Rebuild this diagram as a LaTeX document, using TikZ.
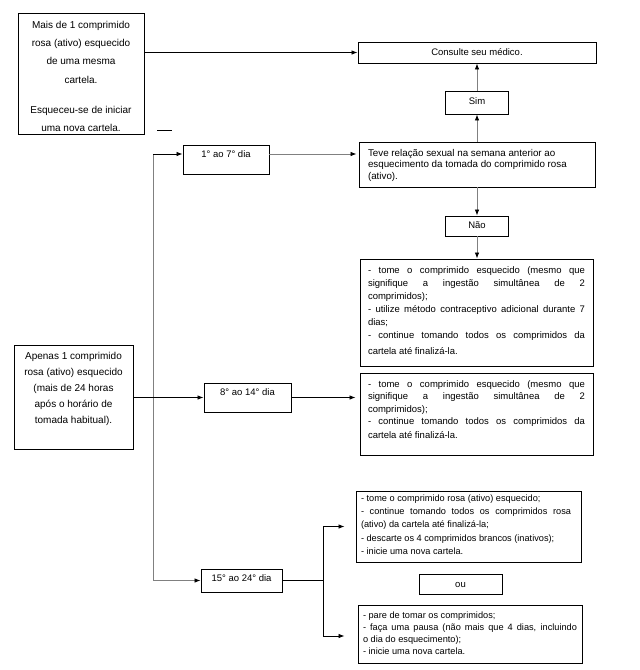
\documentclass[tikz,border=0pt]{standalone}
\usepackage{fontspec}
\setmainfont{Liberation Sans}
\usetikzlibrary{arrows.meta}
\newcommand\tbx[4]{\parbox[c][#2][t]{#1}{\vspace*{#3}#4}}
\newcommand\strt{\rule{0pt}{7pt}}
\newcommand\jl[1]{\makebox[\linewidth][s]{#1}}
\tikzset{
  box/.style={draw, line width=0.9pt, inner ysep=0pt, inner xsep=0pt, font=\fontsize{9.5}{13}\selectfont},
  ln/.style={line width=0.8pt},
  gln/.style={line width=0.8pt, draw=black!50},
  arr/.style={-{Latex[length=6pt,width=4.5pt,color=black]}},
}
\begin{document}
\begin{tikzpicture}[x=1pt,y=-1pt]
\useasboundingbox (0,0) rectangle (640,670);
% boxes
\node[box, font=\fontsize{10}{18.3}\selectfont] (A) at (81,73.5)
  {\tbx{126pt}{121pt}{8pt}{\centering\strt Mais de 1 comprimido\\ rosa (ativo) esquecido\\ de uma mesma\\ cartela.\\[11.7pt] Esqueceu-se de iniciar\\ uma nova cartela.}};
\node[box] (Consulte) at (477,52.5)
  {\tbx{238pt}{21pt}{6.5pt}{\centering\strt Consulte seu médico.}};
\node[box] (Sim) at (477,102.5)
  {\tbx{63pt}{23pt}{6pt}{\centering\strt Sim}};
\node[box, inner xsep=9pt, font=\fontsize{9.8}{11.3}\selectfont] (Teve) at (477,164.5)
  {\tbx{218pt}{45pt}{7.5pt}{\raggedright\strt Teve relação sexual na semana anterior ao\\ esquecimento da tomada do comprimido rosa\\ (ativo).}};
\node[box] (Nao) at (477,226)
  {\tbx{63pt}{20pt}{5.5pt}{\centering\strt Não}};
\node[box, inner xsep=8pt] (B) at (476.5,312.5)
  {\tbx{217pt}{107pt}{7pt}{\raggedright\strt\jl{- tome o comprimido esquecido (mesmo que}\\
   \jl{signifique a ingestão simultânea de 2}\\
   comprimidos);\\
   \jl{- utilize método contraceptivo adicional durante 7}\\
   dias;\\
   \jl{- continue tomando todos os comprimidos da}\\[3pt]
   cartela até finalizá-la.}};
\node[box, font=\fontsize{10}{16}\selectfont] (C) at (73.5,397)
  {\tbx{119pt}{104pt}{7pt}{\centering\strt Apenas 1 comprimido\\ rosa (ativo) esquecido\\ (mais de 24 horas\\ após o horário de\\ tomada habitual).}};
\node[box] (d1) at (226,159.5)
  {\tbx{86pt}{29pt}{5.5pt}{\centering\strt 1° ao 7° dia}};
\node[box] (d8) at (247.5,397.5)
  {\tbx{87pt}{29pt}{5pt}{\centering\strt 8° ao 14° dia}};
\node[box, inner xsep=8pt, font=\fontsize{9.5}{12.5}\selectfont] (D) at (476.5,414)
  {\tbx{217pt}{82pt}{7pt}{\raggedright\strt\jl{- tome o comprimido esquecido (mesmo que}\\
   \jl{signifique a ingestão simultânea de 2}\\
   comprimidos);\\
   \jl{- continue tomando todos os comprimidos da}\\[1pt]
   cartela até finalizá-la.}};
\node[box] (d15) at (241.5,580.5)
  {\tbx{81pt}{23pt}{5.5pt}{\centering\strt 15° ao 24° dia}};
\node[box, inner xsep=5pt, font=\fontsize{9.2}{13.2}\selectfont] (E) at (468.5,526.5)
  {\tbx{215pt}{71pt}{3.5pt}{\raggedright\strt - tome o comprimido rosa (ativo) esquecido;\\
   \makebox[210pt][s]{- continue tomando todos os comprimidos rosa}\\
   (ativo) da cartela até finalizá-la;\\
   - descarte os 4 comprimidos brancos (inativos);\\
   - inicie uma nova cartela.}};
\node[box] (ou) at (460.5,584)
  {\tbx{83pt}{20pt}{6.5pt}{\centering\strt ou}};
\node[box, inner xsep=5pt, font=\fontsize{9.2}{12.3}\selectfont] (F) at (470,634)
  {\tbx{214pt}{58pt}{6pt}{\raggedright\strt - pare de tomar os comprimidos;\\
   \jl{- faça uma pausa (não mais que 4 dias, incluindo}\\
   o dia do esquecimento);\\
   - inicie uma nova cartela.}};
% coordinates
\coordinate (s1) at (157,130);
\coordinate (s2) at (172,130);
\coordinate (tt) at (153,154);
\coordinate (tb) at (153,580.5);
\coordinate (sp) at (323,580.5);
% connectors
\draw[ln,arr] (A.east |- Consulte.west) -- (Consulte.west);
\draw[ln] (s1) -- (s2);
\draw[gln,arr] (tt) -- (tb) -- (d15.west);
\draw[ln,arr] (tt) -- ([yshift=5.5pt]d1.west);
\draw[gln,arr,shorten >=2pt] ([yshift=5.5pt]d1.east) -- (Teve.west |- tt);
\draw[gln,arr] (Teve.north) -- (Sim.south);
\draw[gln,arr] (Sim.north) -- (Consulte.south);
\draw[gln,arr] (Teve.south) -- (Nao.north);
\draw[gln,arr] (Nao.south) -- (Nao.south |- B.north);
\draw[ln,arr] (C.east |- d8.west) -- (d8.west);
\draw[ln,arr,shorten >=4pt] (d8.east) -- (d8.east -| D.west);
\draw[ln] (d15.east) -- (sp);
\draw[ln,arr,shorten >=11pt] (sp) |- (E.west);
\draw[ln,arr,shorten >=13pt] (sp) |- ([yshift=-2pt]F.west);
\end{tikzpicture}
\end{document}
